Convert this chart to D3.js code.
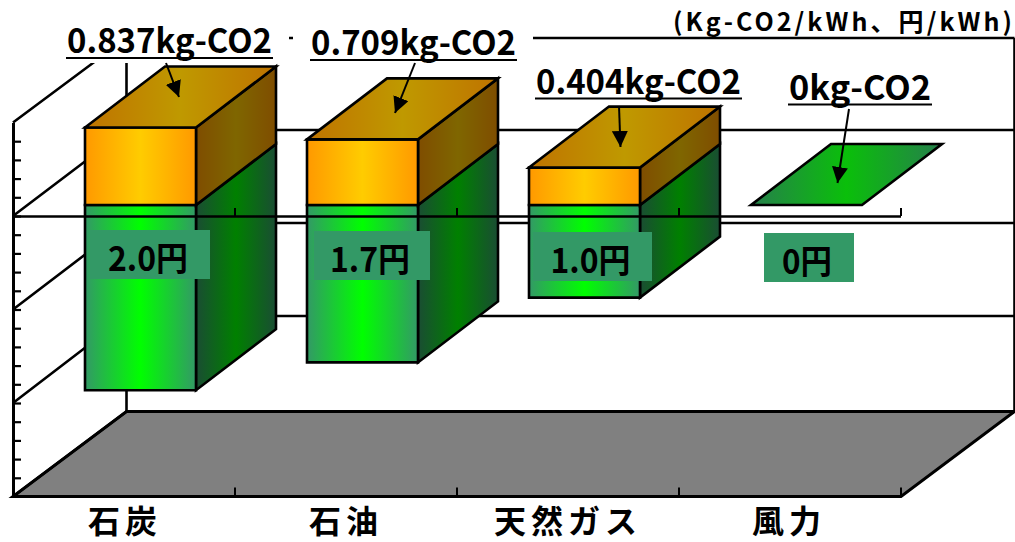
<!DOCTYPE html>
<html lang="ja">
<head>
<meta charset="utf-8">
<script src="https://cdn.jsdelivr.net/npm/d3@7/dist/d3.min.js"></script>
<style>
  html, body { margin: 0; padding: 0; background: #fff; }
  svg { display: block; }
  text { font-family: "Noto Sans CJK JP", "Noto Sans", sans-serif; fill: #000; }
</style>
</head>
<body>
<div id="chart"></div>
<script>
// CO2 emissions (upward) and fuel cost (downward) per kWh by power source
const categories = ["石炭", "石油", "天然ガス", "風力"];
const co2Values = [0.837, 0.709, 0.404, 0];
const costValues = [2.0, 1.7, 1.0, 0];
const co2Labels = ["0.837kg-CO2", "0.709kg-CO2", "0.404kg-CO2", "0kg-CO2"];
const costLabels = ["2.0円", "1.7円", "1.0円", "0円"];
const unitLabel = "(Kg-CO2/kWh、円/kWh)";

const width = 1015, height = 542;

// Oblique projection of the plot box
const depth = { dx: 113.5, dy: -85 };
const plotLeft = 13, plotRight = 901;
const axisMin = -3, axisMax = 1;
const axisTicks = d3.range(1, 20).map(i => axisMin + i * 0.2);
const wallLevels = [-3, -2, -1, 0, 1];

const x = d3.scaleBand().domain(categories).range([plotLeft, plotRight]).paddingInner(0.5).paddingOuter(0.25);
const y = d3.scaleLinear().domain([axisMin, axisMax]).range([496.5, 122.5]);
// Gridlines as they land on the back wall
const yBack = d3.scaleLinear().domain(wallLevels).range([411.5, 316, 223, 130, 38]);

// Bars sit slightly inside the box, so their baseline is lifted off the front plane
const barShift = 16.5;
const barBase = 205, barUnit = 92.6;
const barDepth = { dx: 80, dy: -61 };
const barY = d3.scaleLinear().domain([0, 1]).range([barBase, barBase - barUnit]);

const svg = d3.select("#chart").append("svg")
  .attr("width", width).attr("height", height)
  .attr("viewBox", `0 0 ${width} ${height}`);

const defs = svg.append("defs");
function gradient(id, edge, centre) {
  const g = defs.append("linearGradient").attr("id", id).attr("x1", 0).attr("x2", 1).attr("y1", 0).attr("y2", 0);
  g.append("stop").attr("offset", 0).attr("stop-color", edge);
  g.append("stop").attr("offset", 0.5).attr("stop-color", centre);
  g.append("stop").attr("offset", 1).attr("stop-color", edge);
}
gradient("orangeFront", "#ff9900", "#ffcc00");
gradient("orangeTop", "#bf7300", "#bf9900");
gradient("orangeSide", "#7f4d00", "#7f6600");
gradient("greenFront", "#339966", "#00ff00");
gradient("greenSide", "#1a4d33", "#008000");
gradient("greenFlat", "#267f4c", "#0abf0a");
defs.append("marker").attr("id", "head")
  .attr("viewBox", "0 0 16 16").attr("refX", 16).attr("refY", 8)
  .attr("markerWidth", 16).attr("markerHeight", 16).attr("markerUnits", "userSpaceOnUse")
  .attr("orient", "auto")
  .append("path").attr("d", "M0,0L16,8L0,16Z").attr("fill", "#000");

const line = d3.line();
const poly = pts => line(pts) + "Z";
const ink = { stroke: "#000", "stroke-width": 2.6, "stroke-linejoin": "miter" };
function styled(sel, attrs) { Object.entries(attrs).forEach(([k, v]) => sel.attr(k, v)); return sel; }

// Floor
const floorY = y(axisMin);
styled(svg.append("path"), ink)
  .attr("d", poly([[plotLeft, floorY], [plotRight, floorY], [plotRight + depth.dx, yBack(axisMin)], [plotLeft + depth.dx, yBack(axisMin)]]))
  .attr("fill", "#808080").attr("stroke-width", 3);

// Back and side walls
const walls = svg.append("g").attr("fill", "none");
styled(walls.selectAll("path.level").data(wallLevels).join("path").attr("class", "level"), ink)
  .attr("d", v => line([[plotLeft, y(v)], [plotLeft + depth.dx, yBack(v)], [plotRight + depth.dx, yBack(v)]]));
styled(walls.append("path"), ink)
  .attr("d", line([[plotLeft + depth.dx, yBack(axisMax)], [plotLeft + depth.dx, yBack(axisMin)]]));
styled(walls.append("path"), ink)
  .attr("d", line([[plotRight + depth.dx, yBack(axisMax)], [plotRight + depth.dx, yBack(axisMin)]]));

// Vertical axis on the front plane, ticks pointing inward
const yAxis = svg.append("g").attr("transform", `translate(${plotLeft},0)`)
  .call(d3.axisRight(y).tickValues(axisTicks).tickSize(8).tickSizeOuter(0).tickFormat(""));
yAxis.select(".domain").attr("stroke", "#000").attr("stroke-width", 3);
yAxis.selectAll(".tick line").attr("stroke", "#000").attr("stroke-width", 2.2);

// Category ticks along the floor edge
const catEdges = categories.map((c, i) => plotLeft + (i + 1) * x.step());
const floorTicks = svg.append("g");
floorTicks.selectAll("line").data(catEdges).join("line")
  .attr("x1", d => d).attr("x2", d => d).attr("y1", floorY).attr("y2", floorY - 9)
  .attr("stroke", "#000").attr("stroke-width", 2);

// Bars: a cost block hanging below the baseline, a CO2 block stacked above it
const bars = svg.append("g").selectAll("g").data(categories).join("g");
bars.each(function(c, i) {
  const g = d3.select(this);
  const x0 = x(c) + barShift, x1 = x0 + x.bandwidth();
  const { dx, dy } = barDepth;
  const yTop = barY(co2Values[i]), yBot = barY(-costValues[i]);
  if (co2Values[i] === 0 && costValues[i] === 0) {
    styled(g.append("path"), ink).attr("fill", "url(#greenFlat)")
      .attr("d", poly([[x0, barBase], [x1, barBase], [x1 + dx, barBase + dy], [x0 + dx, barBase + dy]]));
    return;
  }
  const face = (pts, fill) => styled(g.append("path"), ink).attr("fill", fill).attr("d", poly(pts));
  face([[x1, barBase], [x1 + dx, barBase + dy], [x1 + dx, yBot + dy], [x1, yBot]], "url(#greenSide)");
  face([[x0, barBase], [x1, barBase], [x1, yBot], [x0, yBot]], "url(#greenFront)");
  face([[x1, yTop], [x1 + dx, yTop + dy], [x1 + dx, barBase + dy], [x1, barBase]], "url(#orangeSide)");
  face([[x0, yTop], [x1, yTop], [x1, barBase], [x0, barBase]], "url(#orangeFront)");
  face([[x0, yTop], [x0 + dx, yTop + dy], [x1 + dx, yTop + dy], [x1, yTop]], "url(#orangeTop)");
});

// Zero plane edge runs in front of the bars
const zeroLine = svg.append("g");
styled(zeroLine.append("path"), ink).attr("fill", "none")
  .attr("d", line([[plotLeft, y(0) + 0.5], [plotRight, y(0) + 0.5]]));
zeroLine.selectAll("line").data(catEdges).join("line")
  .attr("x1", d => d).attr("x2", d => d).attr("y1", y(0)).attr("y2", y(0) - 8)
  .attr("stroke", "#000").attr("stroke-width", 2);

// Callout placement for the CO2 captions: text anchor, width and arrow ends
const calloutLayout = [
  { left: 67, base: 53, w: 205, ul: 58, box: [62, 25, 227, 38], from: [166, 63], to: [179, 97] },
  { left: 311, base: 55, w: 205, ul: 60, box: [293, 25, 240, 38], from: [415, 63], to: [395, 113] },
  { left: 536, base: 94, w: 205, ul: 98.5, box: null, from: [619, 106], to: [620.5, 147] },
  { left: 789, base: 100, w: 142, ul: 104.5, box: null, from: [849, 109], to: [837.5, 183] }
];
const costBoxes = [
  { x: 90, y: 230, w: 120, h: 49 },
  { x: 314, y: 231, w: 116, h: 49 },
  { x: 533, y: 232, w: 119, h: 49 },
  { x: 764, y: 233, w: 90, h: 49 }
];

const callouts = svg.append("g");
calloutLayout.forEach((c, i) => {
  if (c.box) callouts.append("rect").attr("x", c.box[0]).attr("y", c.box[1]).attr("width", c.box[2]).attr("height", c.box[3]).attr("fill", "#fff");
  callouts.append("text").attr("x", c.left).attr("y", c.base)
    .attr("font-size", 34).attr("font-weight", 700)
    .attr("textLength", c.w).attr("lengthAdjust", "spacingAndGlyphs")
    .text(co2Labels[i]);
  callouts.append("line").attr("x1", c.left - 1).attr("x2", c.left + c.w + 1).attr("y1", c.ul).attr("y2", c.ul)
    .attr("stroke", "#000").attr("stroke-width", 2.2);
  callouts.append("line").attr("x1", c.from[0]).attr("y1", c.from[1]).attr("x2", c.to[0]).attr("y2", c.to[1])
    .attr("stroke", "#000").attr("stroke-width", 2).attr("marker-end", "url(#head)");
});

// Cost captions on their green plates
const plates = svg.append("g").selectAll("g").data(costBoxes).join("g");
plates.append("rect").attr("x", d => d.x).attr("y", d => d.y).attr("width", d => d.w).attr("height", d => d.h).attr("fill", "#339966");
plates.append("text").attr("x", d => d.x + d.w / 2 - 2).attr("y", d => d.y + 41)
  .attr("text-anchor", "middle").attr("font-size", 34).attr("font-weight", 700)
  .attr("textLength", (d, i) => costLabels[i].length === 4 ? 80 : 50).attr("lengthAdjust", "spacingAndGlyphs")
  .text((d, i) => costLabels[i]);

// Unit note, top right
svg.append("text").attr("x", 673).attr("y", 31)
  .attr("font-size", 25).attr("font-weight", 700)
  .attr("textLength", 339).attr("lengthAdjust", "spacing")
  .text(unitLabel);

// Category names under the floor
const nameX = [125, 346, 568, 789];
svg.append("g").selectAll("text").data(categories).join("text")
  .attr("x", (d, i) => nameX[i]).attr("y", 532.5)
  .attr("text-anchor", "middle").attr("font-size", 32).attr("font-weight", 700)
  .attr("letter-spacing", "5px")
  .text(d => d);
</script>
</body>
</html>
